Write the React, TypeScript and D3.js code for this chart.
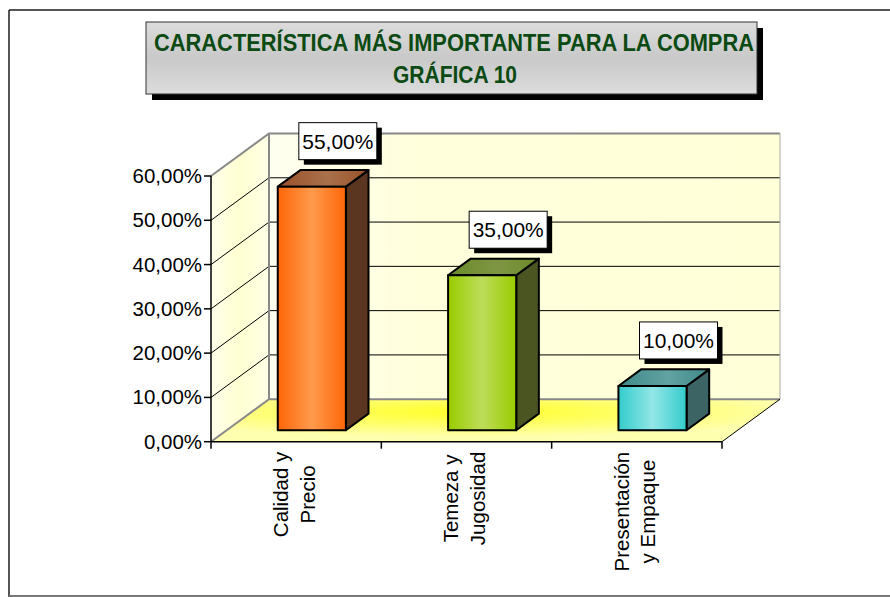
import * as d3 from "d3";
import { useRef, useEffect } from "react";

// chart values
const categories = [
  ["Calidad y", "Precio"],
  ["Temeza y", "Jugosidad"],
  ["Presentación", "y Empaque"],
];
const values = [0.55, 0.35, 0.1];
const yTicks = [0, 0.1, 0.2, 0.3, 0.4, 0.5, 0.6];
const titleLines = ["CARACTERÍSTICA MÁS IMPORTANTE PARA LA COMPRA", "GRÁFICA 10"];

const barColors = [
  { edge: "#ff6608", mid: "#ff9a4c", side: "#5a3520", topA: "#9a5028", topB: "#a8714c" },
  { edge: "#99cc00", mid: "#bddd5a", side: "#4a5522", topA: "#6c8a2a", topB: "#7e9644" },
  { edge: "#33cccc", mid: "#92e6e6", side: "#3d6464", topA: "#3f8a8a", topB: "#62a2a2" },
];

const W = 890;
const H = 597;

const App = () => {
  const ref = useRef(null);

  useEffect(() => {
    const svg = d3.select(ref.current);
    svg.selectAll("*").remove();

    const font = "'Liberation Sans', Arial, sans-serif";
    const plot = { left: 211, right: 722, top: 176, bottom: 441.7 };
    const depth = { dx: 58, dy: -42.5 };
    const z0 = 0.27, z1 = 0.66;

    const x = d3.scaleBand()
      .domain(d3.range(categories.length))
      .range([plot.left, plot.right])
      .paddingInner(0.6)
      .paddingOuter(0.3);
    const y = d3.scaleLinear().domain([0, 0.6]).range([plot.bottom, plot.top]);
    const pct = d3.formatLocale({ decimal: ",", thousands: ".", grouping: [3], currency: ["", ""] }).format(".2%");

    const defs = svg.append("defs");
    const lin = (id, stops, x2 = "100%", y2 = "0%") => {
      const g = defs.append("linearGradient").attr("id", id)
        .attr("x1", "0%").attr("y1", "0%").attr("x2", x2).attr("y2", y2);
      stops.forEach(([o, c]) => g.append("stop").attr("offset", o).attr("stop-color", c));
    };
    lin("titleG", [["0%", "#dcdcdc"], ["50%", "#c9c9c9"], ["100%", "#dcdcdc"]], "0%", "100%");
    lin("backG", [["0%", "#fffff0"], ["30%", "#ffffdc"], ["100%", "#ffffd8"]]);
    lin("sideG", [["0%", "#ffffea"], ["50%", "#ffffd2"], ["100%", "#ffffe6"]]);
    const fl = defs.append("radialGradient").attr("id", "floorG")
      .attr("cx", "45%").attr("cy", "30%").attr("r", "60%");
    fl.append("stop").attr("offset", "0%").attr("stop-color", "#ffff28");
    fl.append("stop").attr("offset", "55%").attr("stop-color", "#ffff70");
    fl.append("stop").attr("offset", "100%").attr("stop-color", "#ffffb0");
    barColors.forEach((c, i) => {
      lin(`front${i}`, [["0%", c.edge], ["50%", c.mid], ["100%", c.edge]]);
      lin(`top${i}`, [["0%", c.topA], ["55%", c.topB], ["100%", c.topA]]);
    });

    // outer border
    svg.append("line").attr("x1", 9).attr("y1", 10).attr("x2", W).attr("y2", 10)
      .attr("stroke", "#1c1c1c").attr("stroke-width", 1.5);
    svg.append("line").attr("x1", 9).attr("y1", 10).attr("x2", 9).attr("y2", H)
      .attr("stroke", "#1c1c1c").attr("stroke-width", 1.5);
    svg.append("line").attr("x1", 9).attr("y1", 596).attr("x2", W).attr("y2", 596)
      .attr("stroke", "#777").attr("stroke-width", 2);

    // title box
    svg.append("rect").attr("x", 152).attr("y", 28).attr("width", 611).attr("height", 72).attr("fill", "#000");
    svg.append("rect").attr("x", 146).attr("y", 22).attr("width", 611).attr("height", 72)
      .attr("fill", "url(#titleG)").attr("stroke", "#333").attr("stroke-width", 1);
    svg.append("text").attr("x", 454).attr("y", 51).attr("text-anchor", "middle")
      .attr("textLength", 600).attr("lengthAdjust", "spacingAndGlyphs")
      .style("font", `bold 24px ${font}`).attr("fill", "#0b4a12").text(titleLines[0]);
    svg.append("text").attr("x", 455).attr("y", 83).attr("text-anchor", "middle")
      .attr("textLength", 124).attr("lengthAdjust", "spacingAndGlyphs")
      .style("font", `bold 24px ${font}`).attr("fill", "#0b4a12").text(titleLines[1]);

    const P = (px, py, z) => [px + depth.dx * z, py + depth.dy * z];
    const poly = (pts) => "M" + pts.map((p) => p.join(",")).join("L") + "Z";
    const yTop = y(0.6), yBot = y(0);

    // walls and floor
    svg.append("path").attr("d", poly([P(plot.left, yBot, 0), P(plot.left, yTop, 0), P(plot.left, yTop, 1), P(plot.left, yBot, 1)]))
      .attr("fill", "url(#sideG)");
    svg.append("path").attr("d", poly([P(plot.left, yBot, 1), P(plot.left, yTop, 1), P(plot.right, yTop, 1), P(plot.right, yBot, 1)]))
      .attr("fill", "url(#backG)");
    svg.append("path").attr("d", poly([P(plot.left, yBot, 0), P(plot.right, yBot, 0), P(plot.right, yBot, 1), P(plot.left, yBot, 1)]))
      .attr("fill", "url(#floorG)");

    // gridlines
    yTicks.slice(1, -1).forEach((t) => {
      const a = P(plot.left, y(t), 0), b = P(plot.left, y(t), 1), c = P(plot.right, y(t), 1);
      svg.append("path").attr("d", `M${a}L${b}L${c}`).attr("fill", "none").attr("stroke", "#000").attr("stroke-width", 1);
    });

    // wall edges
    const edge = (pts, color, w) => svg.append("path").attr("d", "M" + pts.map((p) => p.join(",")).join("L"))
      .attr("fill", "none").attr("stroke", color).attr("stroke-width", w);
    edge([P(plot.left, yTop, 0), P(plot.left, yTop, 1), P(plot.right, yTop, 1)], "#888", 2);
    edge([P(plot.left, yBot, 0), P(plot.left, yBot, 1), P(plot.right, yBot, 1)], "#888", 2);
    edge([P(plot.left, yTop, 1), P(plot.left, yBot, 1)], "#888", 2);
    edge([P(plot.right, yTop, 1), P(plot.right, yBot, 1)], "#aaa", 1);
    edge([P(plot.right, yBot, 0), P(plot.right, yBot, 1)], "#000", 1);

    // bars
    const bw = x.bandwidth();
    values.forEach((v, i) => {
      const [fx0, fyT] = P(x(i), y(v), z0);
      const [fx1, fyB] = P(x(i) + bw, y(0), z0);
      const ddx = depth.dx * (z1 - z0), ddy = depth.dy * (z1 - z0);
      const g = svg.append("g").attr("stroke", "#000").attr("stroke-width", 2).attr("stroke-linejoin", "round");
      g.append("path").attr("d", poly([[fx1, fyB], [fx1, fyT], [fx1 + ddx, fyT + ddy], [fx1 + ddx, fyB + ddy]]))
        .attr("fill", barColors[i].side);
      g.append("path").attr("d", poly([[fx0, fyT], [fx1, fyT], [fx1 + ddx, fyT + ddy], [fx0 + ddx, fyT + ddy]]))
        .attr("fill", `url(#top${i})`);
      g.append("rect").attr("x", fx0).attr("y", fyT).attr("width", fx1 - fx0).attr("height", fyB - fyT)
        .attr("fill", `url(#front${i})`);

      // data label
      const cx = (fx0 + fx1) / 2 + 26;
      const by = fyT - 27;
      const lw = 78, lh = 37;
      svg.append("rect").attr("x", cx - lw / 2 + 5).attr("y", by - lh + 5).attr("width", lw).attr("height", lh).attr("fill", "#000");
      svg.append("rect").attr("x", cx - lw / 2).attr("y", by - lh).attr("width", lw).attr("height", lh)
        .attr("fill", "#fff").attr("stroke", "#000").attr("stroke-width", 1);
      svg.append("text").attr("x", cx).attr("y", by - lh / 2).attr("dy", "0.36em").attr("text-anchor", "middle")
        .attr("textLength", 71).attr("lengthAdjust", "spacingAndGlyphs")
        .style("font", `21px ${font}`).attr("fill", "#000").text(pct(v));
    });

    // y axis
    svg.append("line").attr("x1", plot.left).attr("x2", plot.left).attr("y1", yTop).attr("y2", yBot)
      .attr("stroke", "#000").attr("stroke-width", 1.5);
    yTicks.forEach((t) => {
      svg.append("line").attr("x1", plot.left - 7).attr("x2", plot.left).attr("y1", y(t)).attr("y2", y(t))
        .attr("stroke", "#000").attr("stroke-width", 1.5);
    });
    const yl = svg.append("g").attr("transform", `translate(${plot.left - 9},0) scale(1.05,1)`);
    yTicks.forEach((t) => {
      yl.append("text").attr("x", 0).attr("y", y(t)).attr("dy", "0.36em").attr("text-anchor", "end")
        .style("font", `19.5px ${font}`).attr("fill", "#000").text(pct(t));
    });

    // x axis
    svg.append("line").attr("x1", plot.left).attr("x2", plot.right).attr("y1", yBot).attr("y2", yBot)
      .attr("stroke", "#000").attr("stroke-width", 1.5);
    const step = x.step();
    d3.range(categories.length + 1).forEach((k) => {
      const tx = plot.left + k * step;
      svg.append("line").attr("x1", tx).attr("x2", tx).attr("y1", yBot).attr("y2", yBot + 7)
        .attr("stroke", "#000").attr("stroke-width", 1.5);
    });
    categories.forEach((lines, i) => {
      const c = x(i) + bw / 2;
      const g = svg.append("g");
      const texts = lines.map((s) => g.append("text").style("font", `20.5px ${font}`)
        .attr("text-anchor", "middle").attr("fill", "#000").text(s));
      const maxLen = d3.max(texts, (t) => t.node().getComputedTextLength());
      const cy = yBot + 10 + maxLen / 2;
      texts.forEach((t, j) => {
        const bx = c - 8 + j * 26.5;
        t.attr("x", bx).attr("y", cy).attr("transform", `rotate(-90,${bx},${cy})`);
      });
    });
  }, []);

  return (
    <svg ref={ref} width={W} height={H}
      style={{ position: "absolute", left: 0, top: 0, background: "#fff" }}></svg>
  );
};

export default App;
